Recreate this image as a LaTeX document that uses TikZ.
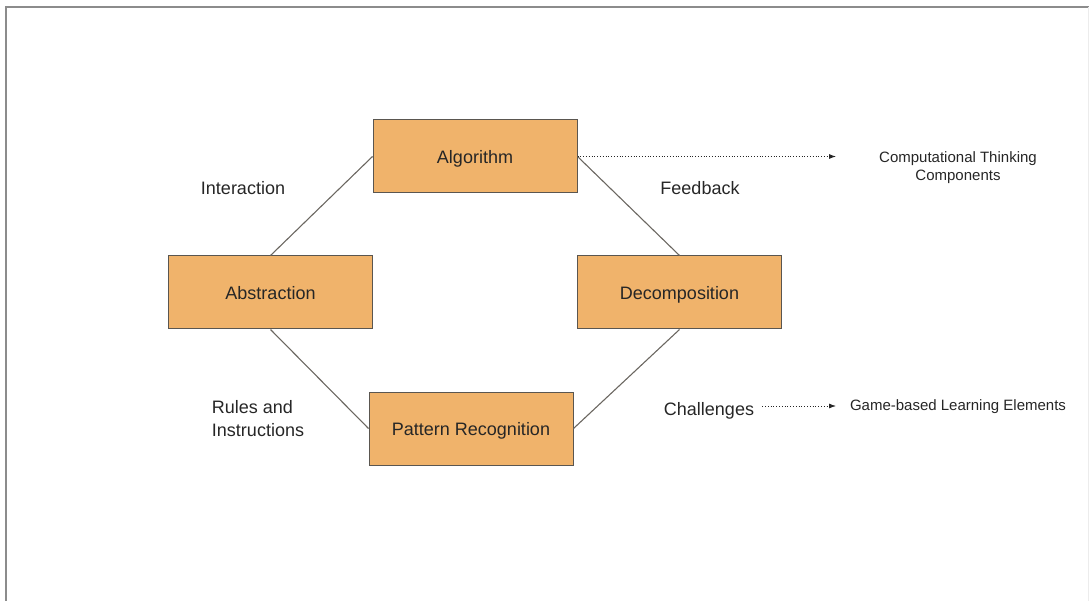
\documentclass[tikz,border=0pt]{standalone}
\usepackage{fontspec}
\setmainfont{Liberation Sans}
\usetikzlibrary{arrows.meta}
\definecolor{boxfill}{HTML}{F0B36B}
\definecolor{boxline}{HTML}{5A5650}
\definecolor{txt}{HTML}{262626}

\begin{document}
\begin{tikzpicture}[x=1pt, y=-1pt,
        comp/.style={draw=boxline, fill=boxfill, line width=1pt, minimum width=204pt, minimum height=73pt, inner sep=0pt, text height=14pt, text depth=0pt, text=txt, font=\fontsize{18}{22}\selectfont},
        lbl/.style={text=txt, font=\fontsize{18}{23}\selectfont, inner sep=0pt},
        note/.style={text=txt, font=\fontsize{15}{18}\selectfont, align=center, inner sep=0pt},
        link/.style={draw=boxline!90, line width=1.1pt},
        pointer/.style={-{Latex[length=7pt,width=5pt]}, dotted, line width=0.8pt, draw=txt}
      ]
      \useasboundingbox (0,0) rectangle (1089,601);
      \draw[gray!90, line width=2pt] (5.5,601) -- (5.5,7) -- (1089,7);
      \draw[gray!15, line width=0.8pt] (1088.5,7) -- (1088.5,601);

      \node[comp] (alg) at (475,156.5) {Algorithm};
      \node[comp] (abs) at (270.5,292.5) {Abstraction};
      \node[comp] (dec) at (679.5,292.5) {Decomposition};
      \node[comp] (pat) at (471,428.5) {Pattern Recognition};

      \node[lbl] (inter) at (243,188) {Interaction};
      \node[lbl] (feed) at (700,188) {Feedback};
      \node[lbl, align=left] (rules) at (258,419) {Rules and\\Instructions};
      \node[lbl] (chal) at (709,411) {Challenges};

      \node[note] (ctc) at (958,168) {Computational Thinking\\Components};
      \node[note] (gle) at (958,407) {Game-based Learning Elements};
      \coordinate (ctend) at (836,156.5);
      \coordinate (glend) at (836,406);

      \draw[link] (alg.west) -- (abs.north);
      \draw[link] (alg.east) -- (dec.north);
      \draw[link] (abs.south) -- (pat.west);
      \draw[link] (pat.east) -- (dec.south);

      \draw[pointer] (alg.east) -- (ctend);
      \draw[pointer] ([xshift=8pt]chal.east |- glend) -- (glend);
    \end{tikzpicture}
\end{document}
